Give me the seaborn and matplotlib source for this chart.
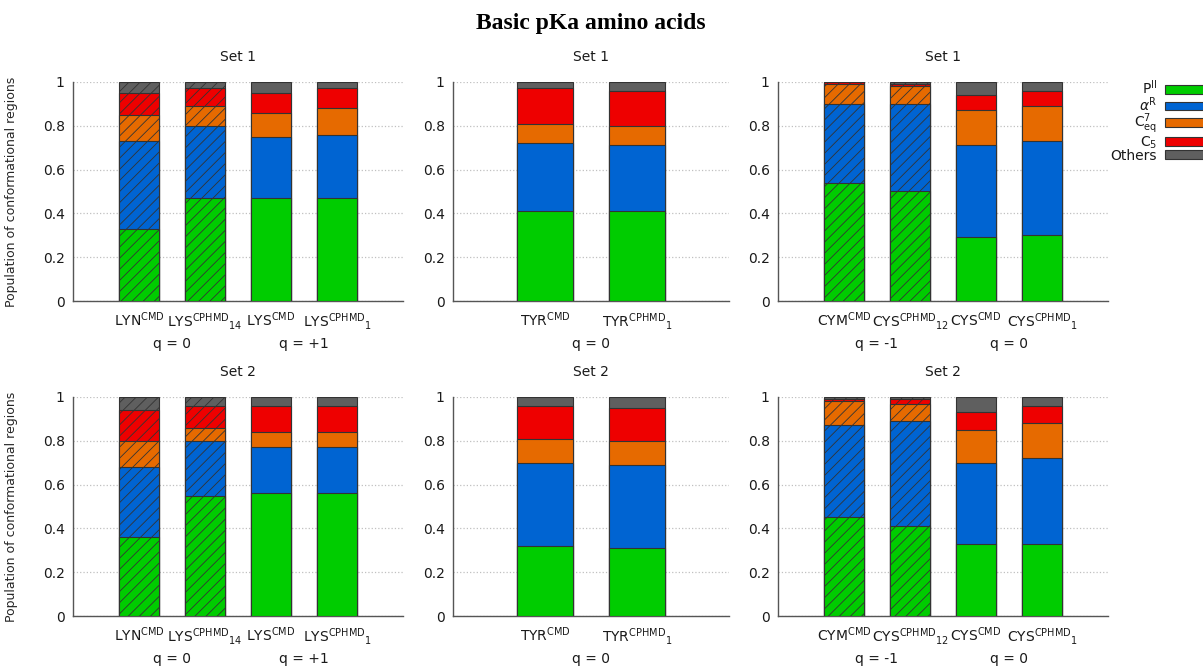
import numpy as np
import pandas as pd
import matplotlib
matplotlib.use('Agg')
import matplotlib.pyplot as plt
import seaborn as sns
from matplotlib.patches import Patch

# conformational regions, bottom to top of every bar
regions = ['PII', 'aR', 'C7eq', 'C5', 'Others']
region_labels = [r'P$^{\rm II}$', r'$\alpha^{\rm R}$', r'C$^{7}_{\rm eq}$',
                 r'C$_{5}$', 'Others']
colors = ['#00cc00', '#0064d2', '#e66a00', '#ee0000', '#5f5f5f']

# bar labels
lys_labels = [r'LYN$^{\rm CMD}$', r'LYS$^{\rm CPHMD}{}_{14}$',
              r'LYS$^{\rm CMD}$', r'LYS$^{\rm CPHMD}{}_{1}$']
tyr_labels = [r'TYR$^{\rm CMD}$', r'TYR$^{\rm CPHMD}{}_{1}$']
cys_labels = [r'CYM$^{\rm CMD}$', r'CYS$^{\rm CPHMD}{}_{12}$',
              r'CYS$^{\rm CMD}$', r'CYS$^{\rm CPHMD}{}_{1}$']

# which bars are hatched (neutral / deprotonated states)
lys_hatched = [True, True, False, False]
tyr_hatched = [False, False]
cys_hatched = [True, True, False, False]

# charge group labels
lys_groups = ['q = 0', 'q = +1']
tyr_groups = ['q = 0']
cys_groups = ['q = -1', 'q = 0']

# populations: one row per bar, columns PII, aR, C7eq, C5, Others
lys_set1 = [[0.33, 0.40, 0.12, 0.10, 0.05],
            [0.47, 0.33, 0.09, 0.08, 0.03],
            [0.47, 0.28, 0.11, 0.09, 0.05],
            [0.47, 0.29, 0.12, 0.09, 0.03]]
tyr_set1 = [[0.41, 0.31, 0.09, 0.16, 0.03],
            [0.41, 0.30, 0.09, 0.16, 0.04]]
cys_set1 = [[0.54, 0.36, 0.09, 0.01, 0.00],
            [0.50, 0.40, 0.08, 0.01, 0.01],
            [0.29, 0.42, 0.16, 0.07, 0.06],
            [0.30, 0.43, 0.16, 0.07, 0.04]]

lys_set2 = [[0.36, 0.32, 0.12, 0.14, 0.06],
            [0.55, 0.25, 0.06, 0.10, 0.04],
            [0.56, 0.21, 0.07, 0.12, 0.04],
            [0.56, 0.21, 0.07, 0.12, 0.04]]
tyr_set2 = [[0.32, 0.38, 0.11, 0.15, 0.04],
            [0.31, 0.38, 0.11, 0.15, 0.05]]
cys_set2 = [[0.45, 0.42, 0.11, 0.01, 0.01],
            [0.41, 0.48, 0.08, 0.02, 0.01],
            [0.33, 0.37, 0.15, 0.08, 0.07],
            [0.33, 0.39, 0.16, 0.08, 0.04]]

sns.set_style('white')
plt.rcParams['font.family'] = ['DejaVu Sans']
plt.rcParams['hatch.linewidth'] = 0.6
plt.rcParams['mathtext.fontset'] = 'dejavusans'
plt.rcParams['text.color'] = '#1a1a1a'
plt.rcParams['xtick.color'] = '#1a1a1a'
plt.rcParams['ytick.color'] = '#1a1a1a'

fig = plt.figure(figsize=(12.03, 6.66), dpi=100)

# panel boxes in figure fractions: left, width
cols = [(0.0607, 0.2743), (0.3766, 0.2294), (0.6467, 0.2743)]
rows = [(0.548, 0.329), (0.075, 0.329)]


def stacked_panel(ax, labels, values, hatched, groups, set_name, ylabel):
    df = pd.DataFrame(values, columns=regions)
    df['bar'] = labels
    cum = df[regions].cumsum(axis=1)
    # draw cumulative totals from top layer down so lower layers cover them
    for k in range(len(regions) - 1, -1, -1):
        sns.barplot(x=df['bar'], y=cum[regions[k]], color=colors[k],
                    width=0.6, edgecolor='#333333', linewidth=0.8,
                    saturation=1, ax=ax, zorder=3)
    for p in ax.patches:
        idx = int(round(p.get_x() + p.get_width() / 2))
        if hatched[idx]:
            p.set_hatch('///')
    n = len(labels)
    ax.set_xlim(-1, n)
    ax.set_ylim(0, 1)
    ax.set_yticks([0, 0.2, 0.4, 0.6, 0.8, 1])
    ax.set_yticklabels(['0', '0.2', '0.4', '0.6', '0.8', '1'])
    ax.set_xlabel('')
    ax.set_ylabel('')
    ax.yaxis.grid(True, linestyle=':', color='#c0c0c0', linewidth=0.9, zorder=0)
    ax.set_axisbelow(True)
    for s in ['top', 'right']:
        ax.spines[s].set_visible(False)
    for s in ['left', 'bottom']:
        ax.spines[s].set_color('#555555')
        ax.spines[s].set_linewidth(1.0)
    ax.tick_params(axis='y', direction='in', length=5, color='#555555',
                   labelsize=10, pad=6)
    ax.tick_params(axis='x', length=0, labelsize=10, pad=7)
    ax.text(0.5, 1.115, set_name, transform=ax.transAxes, ha='center',
            va='center', fontsize=10)
    trans = ax.get_xaxis_transform()
    for g, name in enumerate(groups):
        ax.text(2 * g + 0.5, -0.195, name, transform=trans, ha='center',
                va='center', fontsize=10)
    if ylabel:
        ax.set_ylabel('Population of conformational regions', fontsize=9)
        ax.yaxis.set_label_coords(-0.167, 0.5)


panels = [
    [(lys_labels, lys_set1, lys_hatched, lys_groups),
     (tyr_labels, tyr_set1, tyr_hatched, tyr_groups),
     (cys_labels, cys_set1, cys_hatched, cys_groups)],
    [(lys_labels, lys_set2, lys_hatched, lys_groups),
     (tyr_labels, tyr_set2, tyr_hatched, tyr_groups),
     (cys_labels, cys_set2, cys_hatched, cys_groups)],
]

for r, (bottom, height) in enumerate(rows):
    for c, (left, width) in enumerate(cols):
        ax = fig.add_axes([left, bottom, width, height])
        labels, values, hatched, groups = panels[r][c]
        stacked_panel(ax, labels, values, hatched, groups,
                      'Set %d' % (r + 1), c == 0)

handles = [Patch(facecolor=colors[k], edgecolor='#333333', linewidth=0.8)
           for k in range(len(regions))]
fig.legend(handles, region_labels, loc='upper right',
           bbox_to_anchor=(1.008, 0.89), frameon=False, markerfirst=False,
           fontsize=10, handlelength=3.0, handleheight=0.6,
           labelspacing=-0.15, handletextpad=0.6, borderaxespad=0)

fig.text(0.491, 0.964, 'Basic pKa amino acids', ha='center', va='center',
         fontsize=17, fontweight='bold', family='Liberation Serif',
         color='black')

fig.savefig('out.png', dpi=100)
